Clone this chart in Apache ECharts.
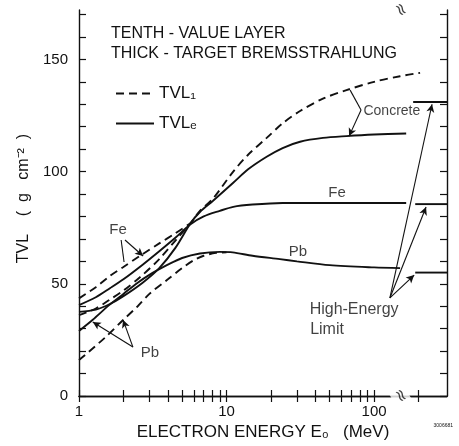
<!DOCTYPE html>
<html>
<head>
<meta charset="utf-8">
<script src="https://cdn.jsdelivr.net/npm/echarts@6/dist/echarts.min.js"></script>
<style>
html,body{margin:0;padding:0;background:#fff;}
#chart{width:459px;height:446px;}
</style>
</head>
<body>
<div id="chart"></div>
<script>
// ---- data (electron energy MeV, TVL g/cm^2) ----
const feTvl1 = [[1,43.5],[1.3,48.5],[1.62,53.5],[2,57.5],[2.6,62.5],[3.5,68],[4.5,72.5],[5.7,77]];
const feTvle = [[1,40.5],[1.3,44],[1.62,48],[2,52],[2.7,58.5],[3.5,64.5],[4.5,70.5],[5.7,76.5],[7,80],[9,82.5],[11.1,84.3],[15,85.3],[24,86],[50,86],[100,86],[165,86]];
const concreteTvl1 = [[1,36],[1.3,39],[1.62,43],[2,47],[2.6,53],[3.5,61],[4.6,70],[5.7,77],[6.6,82.5],[8.1,88],[11.1,100],[14,107.5],[18.7,115],[24,121.5],[31.5,127],[45,132.5],[65,136.3],[100,140],[150,142.5],[205,144]];
const concreteTvle = [[1,37.5],[1.3,38.5],[1.62,41],[2,44.5],[2.7,50.5],[3.5,57],[4.5,66],[5.7,77],[6.6,82],[8.1,87],[11.1,95],[14,101],[18.7,106.6],[24,110.5],[31.5,113.3],[45,115],[65,115.8],[100,116.5],[165,117]];
const pbTvl1 = [[1,16],[1.5,26],[2,34],[2.5,40],[3,45.5],[4,52],[5,57],[6,60.5],[7,62.5],[8.5,63.8],[10,64]];
const pbTvle = [[1,29],[1.24,34],[1.6,40.5],[2,45.5],[2.5,50.5],[3,54],[4,58.5],[5,61.5],[6.6,63.5],[9,64.2],[11,64],[15,62.5],[23,61],[30,60],[50,58.3],[100,57.3],[150,57]];
const limitConcrete = [[184,131],[312,131]];
const limitFe = [[190,85.5],[312,85.5]];
const limitPb = [[190,55],[312,55]];
const xTickValues = [1,2,3,4,5,6,7,8,9,10,20,30,40,50,60,70,80,90,100,200];
const xTickLabels = [1,10,100];
const yTickValues = [0,10,20,30,40,50,60,70,80,90,100,110,120,130,140,150,160,170];
const yTickLabels = [0,50,100,150];
const xRange = [1,312];
const yRange = [0,172];
const breakAt = 150;

const FONT = "'Liberation Sans', Arial, sans-serif";
const INK = '#111';

const chart = echarts.init(document.getElementById('chart'), null, {renderer:'canvas'});

function curve(name, data, dashed){
  return {
    type:'line', name:name, data:data, symbol:'none', smooth:0.3,
    lineStyle:{color:INK, width:1.9, type: dashed ? [8,5] : 'solid'},
    itemStyle:{color:INK}, silent:true, z:3
  };
}
function straight(data){
  return {type:'line', data:data, symbol:'none', lineStyle:{color:INK, width:1.9}, silent:true, z:3};
}
const axisCommonX = {
  type:'log', logBase:10, min:xRange[0], max:xRange[1],
  axisLine:{show:true, lineStyle:{color:INK, width:1.4}},
  axisTick:{show:true, inside:true, length:6, customValues:xTickValues, lineStyle:{color:INK, width:1.2}},
  splitLine:{show:false}, minorTick:{show:false}
};
const axisCommonY = {
  type:'value', min:yRange[0], max:yRange[1],
  axisLine:{show:true, lineStyle:{color:INK, width:1.4}},
  axisTick:{show:true, inside:true, length:7, customValues:yTickValues, lineStyle:{color:INK, width:1.2}},
  splitLine:{show:false}
};

function lbl(text, coord, size){
  return {value:coord, name:text,
    label:{show:true, position:'inside', formatter:'{b}', fontSize:size, fontFamily:FONT, color:INK}};
}

const option = {
  animation:false,
  backgroundColor:'#fff',
  grid:{left:79, right:12, top:10, bottom:50, containLabel:false},
  title:{
    text:'TENTH - VALUE LAYER\nTHICK - TARGET BREMSSTRAHLUNG',
    left:106, top:19, padding:5,
    textStyle:{fontFamily:FONT, fontSize:16, fontWeight:'normal', color:INK, lineHeight:20}
  },
  legend:{
    data:['TVL₁','TVLₑ'], orient:'vertical', left:110, top:80, padding:5,
    itemWidth:38, itemHeight:14, itemGap:13, selectedMode:false,
    itemStyle:{opacity:0},
    textStyle:{fontFamily:FONT, fontSize:17, color:INK}
  },
  xAxis:[
    Object.assign({}, axisCommonX, {
      position:'bottom',
      axisLabel:{show:true, customValues:xTickLabels, fontFamily:FONT, fontSize:15, color:INK, margin:8},
      name:'ELECTRON ENERGY E₀   (MeV)', nameLocation:'middle', nameGap:27,
      nameTextStyle:{fontFamily:FONT, fontSize:17, color:INK}
    }),
    Object.assign({}, axisCommonX, {position:'top', axisLabel:{show:false}})
  ],
  yAxis:[
    Object.assign({}, axisCommonY, {
      position:'left',
      axisLabel:{show:true, customValues:yTickLabels, fontFamily:FONT, fontSize:15, color:INK, margin:11},
      name:'  TVL    (  g   cm⁻²  )', nameLocation:'middle', nameGap:47, nameRotate:90,
      nameTextStyle:{fontFamily:FONT, fontSize:16, color:INK}
    }),
    Object.assign({}, axisCommonY, {position:'right', axisLabel:{show:false}})
  ],
  series:[
    curve('TVL₁', concreteTvl1, true),
    curve('TVLₑ', concreteTvle, false),
    curve('TVL₁', feTvl1, true),
    curve('TVLₑ', feTvle, false),
    curve('TVL₁', pbTvl1, true),
    curve('TVLₑ', pbTvle, false),
    straight(limitConcrete),
    straight(limitFe),
    straight(limitPb),
    {
      type:'scatter', symbolSize:1, itemStyle:{color:'rgba(0,0,0,0)'}, silent:true, z:5,
      data:[
        lbl('Fe', [1.84,74], 15),
        lbl('Pb', [3.03,19.2], 15),
        lbl('Fe', [56.1,90.4], 15),
        lbl('Pb', [30.5,64.1], 15),
        lbl('Concrete', [132,127], 14),
        lbl('High-Energy', [73.2,38.3], 16),
        lbl('Limit', [48,29.4], 16)
      ]
    },
    {
      type:'scatter', symbolSize:1, itemStyle:{color:'rgba(0,0,0,0)'}, silent:true, z:6, clip:false,
      data:[[breakAt, yRange[0]],[breakAt, yRange[1]]],
      label:{show:true, position:'inside', formatter:()=>'≈', fontSize:17, color:INK, rotate:-60,
        backgroundColor:'#fff', padding:[0,1,0,1], fontFamily:"'DejaVu Sans', sans-serif"}
    },
    {
      type:'line', data:[], silent:true, z:4,
      markLine:{
        silent:true, animation:false, symbol:['none','arrow'], symbolSize:[6,8],
        label:{show:false}, lineStyle:{color:INK, width:1.1, type:'solid'},
        emphasis:{disabled:true},
        data:[
          [{coord:[1.93,69.5]},{coord:[2.02,59.7], symbol:'none'}],
          [{coord:[2.05,69.5]},{coord:[2.72,62.4]}],
          [{coord:[2.32,21.8]},{coord:[1.24,33]}],
          [{coord:[2.32,21.8]},{coord:[1.99,33.9]}],
          [{coord:[68.8,136.3]},{coord:[81.6,127.4], symbol:'none'}],
          [{coord:[81.6,127.4]},{coord:[67.7,115.8]}],
          [{coord:[128,43.7]},{coord:[247,130]}],
          [{coord:[128,43.7]},{coord:[225,84.2]}],
          [{coord:[128,43.7]},{coord:[187,53.9]}]
        ]
      }
    }
  ],
  graphic:[
    {type:'text', right:6, bottom:18, style:{text:'3006681', fontSize:5, fill:INK, fontFamily:FONT}}
  ]
};
chart.setOption(option);
</script>
</body>
</html>
